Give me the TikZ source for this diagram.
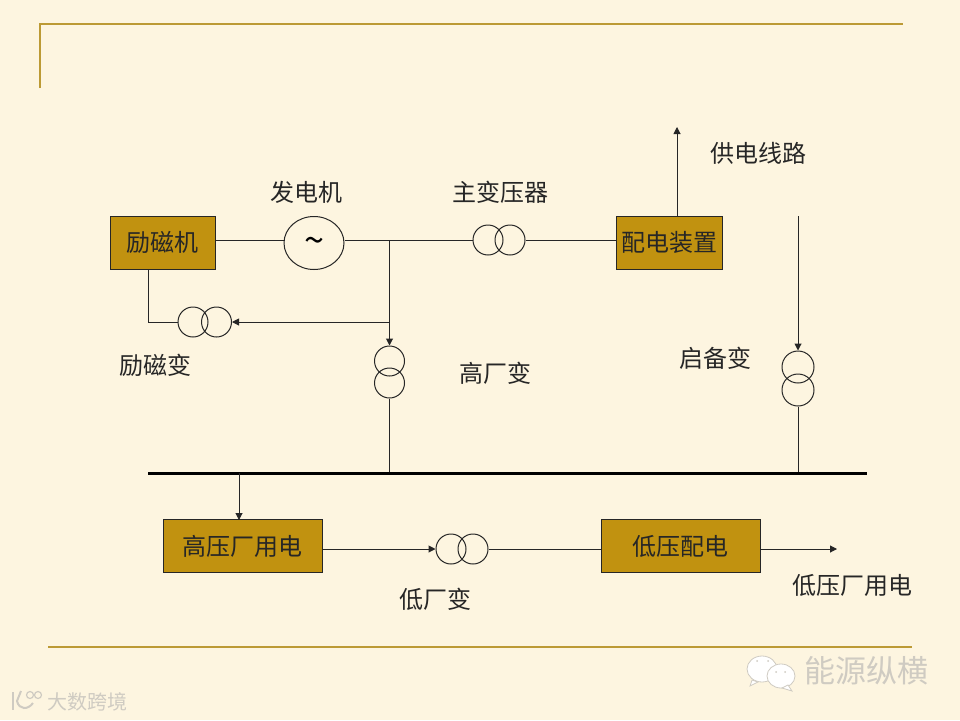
\documentclass[tikz,border=0pt]{standalone}
\usepackage{fontspec}
\setmainfont{Noto Sans CJK SC}
\usetikzlibrary{arrows.meta,shapes.geometric}
\definecolor{paper}{HTML}{FDF5E0}
\definecolor{boxfill}{HTML}{C19210}
\definecolor{rulegold}{HTML}{BC9A35}
\definecolor{wmgrey}{HTML}{CFCBC2}
\tikzset{
  x=1pt,y=-1pt,
  wire/.style={line width=1pt,draw=black!85},
  arr/.style={wire,-{Triangle[length=7pt,width=7pt]}},
  unit/.style={draw=black!85,line width=1pt,fill=boxfill,minimum width=#1,inner sep=0pt,font=\fontsize{24}{26}\selectfont,text=black!85,minimum height=53pt},
  coil/.style={circle,draw=black!85,line width=1pt,minimum size=30pt,inner sep=0pt},
  coilb/.style={circle,draw=black!85,line width=1pt,minimum size=32pt,inner sep=0pt},
  lab/.style={font=\fontsize{24}{26}\selectfont,text=black!85,inner sep=0pt},
  rulel/.style={draw=rulegold,line width=2pt},
  wm/.style={text=wmgrey,inner sep=0pt},
}
\begin{document}
\begin{tikzpicture}
\useasboundingbox (0,0) rectangle (960,720);
\fill[paper] (0,0) rectangle (960,720);
% decorative rules
\coordinate (tl) at (40,24); \coordinate (tr) at (903,24); \coordinate (td) at (40,88);
\draw[rulel] (td) -- (tl) -- (tr);
\coordinate (bl) at (48,647); \coordinate (br) at (912,647);
\draw[rulel] (bl) -- (br);
% boxes
\node[unit=105pt] (lcj) at (162.5,242.5) {\raisebox{-1.5pt}{励磁机}};
\node[unit=106pt] (pd) at (669,242.5) {\raisebox{-1.5pt}{配电装置}};
\node[unit=159pt] (gy) at (242.5,546) {\raisebox{-1pt}{高压厂用电}};
\node[unit=159pt] (dy) at (680.5,546) {\raisebox{-1pt}{低压配电}};
% generator
\node[ellipse,draw=black!85,line width=1pt,minimum width=60pt,minimum height=53pt,inner sep=0pt,font=\fontsize{36}{38}\selectfont,text height=14pt,text depth=4pt] (gen) at (314,243) {\raisebox{-5pt}{\char"007E}};
% transformers
\node[coil] (ex1) at (193,322) {};
\node[coil] (ex2) at (216.5,322) {};
\node[coil] (mt1) at (488,240) {};
\node[coil] (mt2) at (510,240) {};
\node[coil] (ht1) at (389.5,361) {};
\node[coil] (ht2) at (389.5,383) {};
\node[coilb] (st1) at (798,367) {};
\node[coilb] (st2) at (798,390) {};
\node[coil] (lt1) at (451,549) {};
\node[coil] (lt2) at (473,549) {};
% named junctions
\coordinate (j1) at (389.5,240);
\coordinate (j2) at (389.5,322);
\coordinate (c1) at (148,322);
\coordinate (c2) at (148,269);
\coordinate (outup) at (677,127);
\coordinate (outup0) at (677,216);
\coordinate (st0) at (798,216);
\coordinate (busL) at (148,473);
\coordinate (busR) at (867,473);
\coordinate (busg) at (239,473);
\coordinate (gyt) at (239,520);
\coordinate (bush) at (389.5,473);
\coordinate (buss) at (798,473);
\coordinate (lowout) at (837,549);
% connectors
\draw[wire] (lcj.east |- j1) -- (gen.west |- j1);
\draw[wire] (gen.east |- j1) -- (mt1.west);
\draw[wire] (mt2.east) -- (pd.west |- mt2.east);
\draw[arr] (outup0) -- (outup);
\draw[arr] (st0) -- (st1.north);
\draw[wire] (st2.south) -- (buss);
\draw[wire] (ht2.south) -- (bush);
\draw[arr] (j1) -- (ht1.north);
\draw[arr] (j2) -- (ex2.east);
\draw[wire] (c2) -- (c1) -- (ex1.west);
\draw[line width=3pt,draw=black] (busL) -- (busR);
\draw[arr] (busg) -- (gyt);
\draw[arr] (gy.east |- lt1.west) -- (lt1.west);
\draw[wire] (lt2.east) -- (dy.west |- lt2.east);
\draw[arr] (dy.east |- lowout) -- (lowout);
% labels
\node[lab] (l1) at (306,192) {发电机};
\node[lab] (l2) at (500,192) {主变压器};
\node[lab] (l3) at (758,153) {供电线路};
\node[lab] (l4) at (155,365) {励磁变};
\node[lab] (l5) at (495,373) {高厂变};
\node[lab] (l6) at (715,358) {启备变};
\node[lab] (l7) at (435,599) {低厂变};
\node[lab] (l8) at (852,585) {低压厂用电};
% watermarks
\node[wm,font=\fontsize{31}{33}\selectfont] (w1) at (866,671) {能源纵横};
\node[wm,font=\fontsize{20}{22}\selectfont] (w2) at (87,702) {大数跨境};
% wechat logo
\filldraw[fill=white,draw=wmgrey,line width=.8pt] (762,669) ellipse (15pt and 13pt);
\filldraw[fill=white,draw=wmgrey,line width=.8pt] (752,680) -- (750,686) -- (758,682) -- cycle;
\filldraw[fill=white,draw=wmgrey,line width=.8pt] (781,676) ellipse (14pt and 12pt);
\filldraw[fill=white,draw=wmgrey,line width=.8pt] (788,685) -- (792,691) -- (782,688) -- cycle;
\fill[wmgrey] (757,661) circle (1pt) (768,661) circle (1pt) (776,672) circle (1pt) (785,672) circle (1pt);
% k100 logo
\draw[draw=wmgrey,line width=2.5pt] (13,692) -- (13,710);
\draw[draw=wmgrey,line width=2pt] (21,691) -- (17,701) .. controls (19,710) and (28,710) .. (33,703);
\draw[draw=wmgrey,line width=1.2pt] (30,695) circle (3.5pt) (38,695) circle (3.5pt);
\end{tikzpicture}
\end{document}
